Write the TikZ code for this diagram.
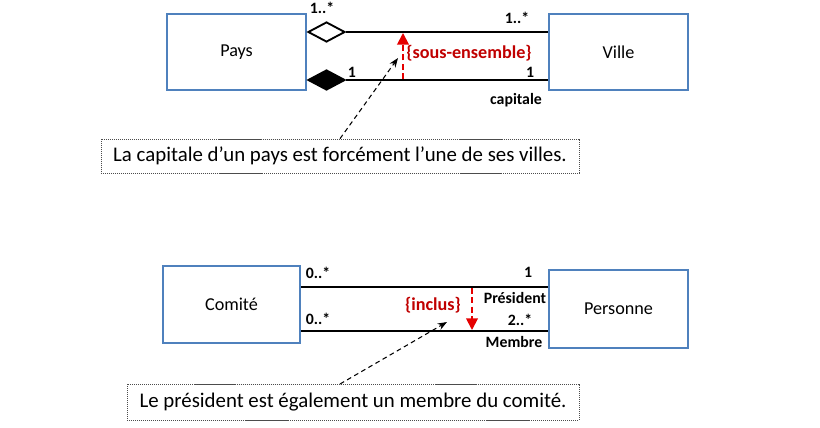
\documentclass[tikz,border=0pt]{standalone}
\usepackage{fontspec}
\setmainfont{Carlito}
\usetikzlibrary{arrows.meta,shapes.geometric,positioning,calc}
\definecolor{cadre}{HTML}{4F81BD}
\definecolor{rouge}{HTML}{C00000}

\begin{document}
\begin{tikzpicture}[x=0.03cm,y=-0.03cm,
  classe/.style={draw=cadre, line width=1.8pt, fill=white,
                 font=\fontsize{15.5}{18}\selectfont},
  losange/.style={draw, line width=1.6pt, shape=diamond, inner sep=0pt,
                  minimum width=1.11cm, minimum height=0.6cm, anchor=west},
  assoc/.style={line width=1.7pt},
  mult/.style={font=\bfseries\fontsize{13.5}{16}\selectfont},
  contrainte/.style={red!90!black, line width=1.6pt, dash pattern=on 5pt off 3pt,
                     -{Triangle[length=10pt,width=10pt]}},
  libelle/.style={text=rouge, font=\bfseries\fontsize{15.5}{18}\selectfont},
  note/.style={draw=gray!60!black, dash pattern=on 1pt off 0.7pt, line width=0.6pt,
               font=\fontsize{17.8}{21}\selectfont},
  pointeur/.style={line width=0.9pt, dash pattern=on 4pt off 3pt,
                   -{Stealth[length=8pt,width=6pt]}}]
  \useasboundingbox (0,0) rectangle (820,428);

  % composition / agregation Pays - Ville
  \node[classe, minimum width=4.17cm, minimum height=2.28cm] (pays) at (236.5,52) {Pays};
  \node[classe, minimum width=4.17cm, minimum height=2.28cm] (ville) at (618.5,52) {Ville};
  \node[losange] (agg) at ($(pays.east)+(0,-20)$) {};
  \node[losange, fill=black] (comp) at ($(pays.east)+(0,28)$) {};

  \draw[assoc] (agg.east) -- (agg.east -| ville.west);
  \draw[assoc] (comp.east) -- (comp.east -| ville.west);

  \node[mult] (m1) at (322,8) {1..*};
  \node[mult] (m2) at (517,18) {1..*};
  \node[mult] (m3) at (352,72) {1};
  \node[mult] (m4) at (530,72) {1};
  \node[mult] (role1) at (516,100) {capitale};

  \coordinate (se-bas) at (403,79);
  \coordinate (se-haut) at (403,33);
  \draw[contrainte] (se-bas) -- (se-haut);
  \node[libelle] (sousens) at (469,53) {\{sous-ensemble\}};

  \node[note, minimum width=14.34cm, minimum height=1.02cm] (note1) at (340,156)
    {La capitale d’un pays est forcément l’une de ses villes.};
  \coordinate (cible1) at (398,58);
  \draw[pointeur] (note1.north) -- (cible1);

  % Comite - Personne
  \node[classe, minimum width=4.11cm, minimum height=2.31cm] (comite) at (231.5,304.5) {Comité};
  \node[classe, minimum width=4.17cm, minimum height=2.34cm] (personne) at (618.5,309) {Personne};
  \coordinate (pres) at ($(comite.east)+(0,-17.5)$);
  \coordinate (memb) at ($(comite.east)+(0,26.5)$);

  \draw[assoc] (pres) -- (pres -| personne.west);
  \draw[assoc] (memb) -- (memb -| personne.west);

  \node[mult] (m5) at (318,273) {0..*};
  \node[mult] (m6) at (318,319) {0..*};
  \node[mult] (m7) at (528,272) {1};
  \node[mult] (role2) at (515,298) {Président};
  \node[mult] (m8) at (520,320) {2..*};
  \node[mult] (role3) at (514,342) {Membre};

  \coordinate (inc-haut) at (472,288);
  \coordinate (inc-bas) at (472,330);
  \draw[contrainte] (inc-haut) -- (inc-bas);
  \node[libelle] (inclus) at (433,305) {\{inclus\}};

  \node[note, minimum width=13.56cm, minimum height=1.08cm] (note2) at (353,402)
    {Le président est également un membre du comité.};
  \coordinate (depart2) at (340,384);
  \coordinate (cible2) at (447,322);
  \draw[pointeur] (depart2) -- (cible2);
\end{tikzpicture}
\end{document}
